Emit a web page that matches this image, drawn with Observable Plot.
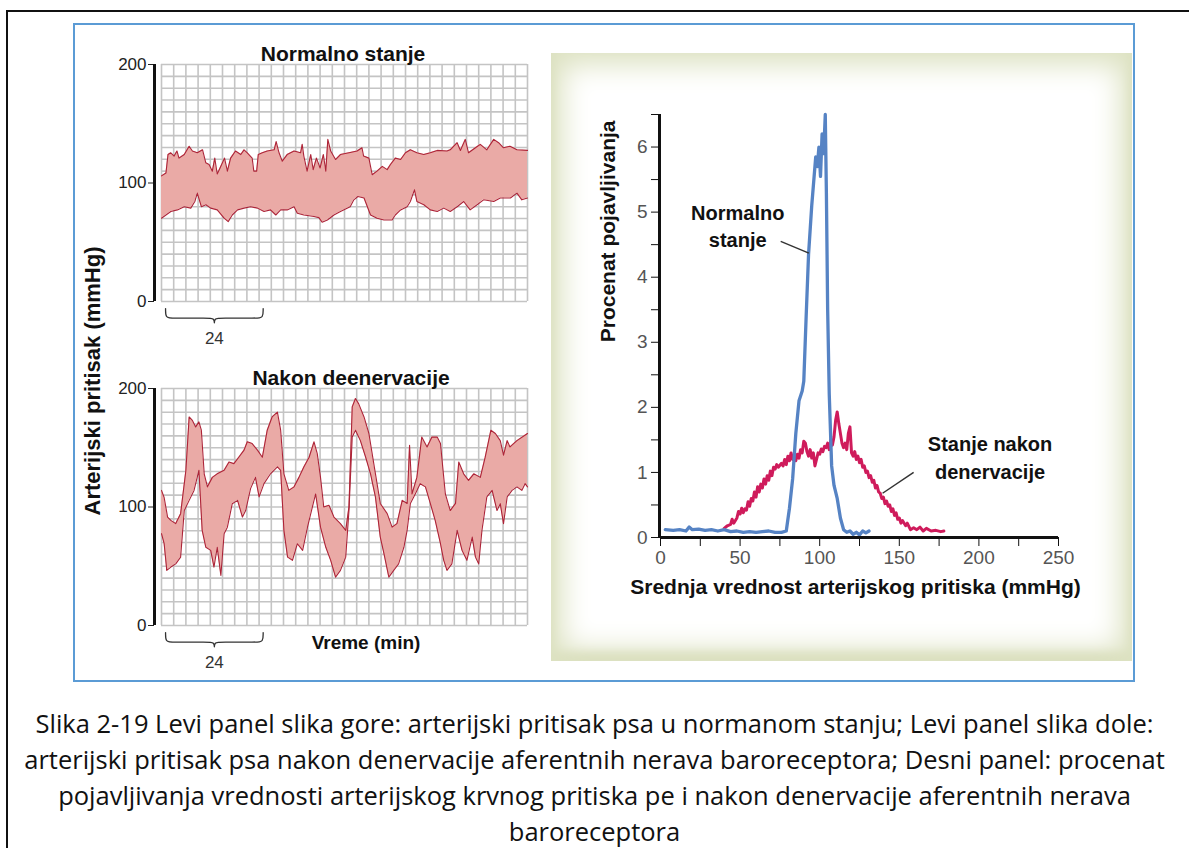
<!DOCTYPE html>
<html>
<head>
<meta charset="utf-8">
<script src="https://cdn.jsdelivr.net/npm/d3@7"></script>
<script src="https://cdn.jsdelivr.net/npm/@observablehq/plot@0.6"></script>
<style>
  html, body { margin: 0; padding: 0; background: #fff; }
  body { width: 1189px; height: 848px; position: relative; overflow: hidden; font-family: "Liberation Sans", Arial, sans-serif; }
  .frame { position: absolute; left: 6px; top: 10px; width: 1200px; height: 900px; border: 2px solid #111; box-sizing: border-box; }
  .figure { position: absolute; left: 73px; top: 23px; width: 1062px; height: 659px; border: 2px solid #5b9bd5; box-sizing: border-box; }
  .histbg { position: absolute; left: 551px; top: 53px; width: 581px; height: 608px; background: #fff;
            box-shadow: inset 0 0 28px 12px #dde2c2, inset 0 -6px 10px 2px #d6dbb8; }
  .panel { position: absolute; }
  .ylabel { position: absolute; left: 93px; top: 381px; transform: translate(-50%, -50%) rotate(-90deg);
            white-space: nowrap; font-weight: bold; font-size: 22px; color: #111; }
  .caption { position: absolute; left: 0; width: 1189px; top: 705px; text-align: center;
             font-family: "Open Sans", Lato, sans-serif; font-size: 25.5px; line-height: 36px; color: #111; }
</style>
</head>
<body>
<div class="frame"></div>
<div class="figure"></div>
<div class="histbg"></div>
<div id="top" class="panel" style="left:90px; top:30px"></div>
<div id="bottom" class="panel" style="left:90px; top:354px"></div>
<div id="hist" class="panel" style="left:560px; top:90px"></div>
<div class="ylabel">Arterijski pritisak (mmHg)</div>
<div class="caption">
Slika 2-19 Levi panel slika gore: arterijski pritisak psa u normanom stanju; Levi panel slika dole:<br>
arterijski pritisak psa nakon denervacije aferentnih nerava baroreceptora; Desni panel: procenat<br>
pojavljivanja vrednosti arterijskog krvnog pritiska pe i nakon denervacije aferentnih nerava<br>
baroreceptora
</div>
<script>
// ---- Pressure traces: [time (min), pressure (mmHg)] ----
const normalUpper = [[0,106],[1.1,108.5],[1.6,124],[2.3,125.5],[3.1,122.7],[3.8,127],[4.3,121],[5.6,124],[6.8,131],[7.6,127],[8.8,125.5],[10.1,128],[10.9,117],[11.7,115.6],[12.5,110],[13.1,121],[13.7,107.6],[14.4,112.7],[15.5,121],[16.2,110],[17,121],[18.2,127],[19.5,124],[20.3,128],[21.1,125.5],[22.3,121],[22.7,110],[23.4,110],[23.8,124],[24.8,125.5],[26,127],[27.7,128],[28.2,135],[28.9,125.5],[29.7,118.4],[30.9,124],[32.6,127],[34.2,125.5],[34.6,132.6],[35,122.7],[35.8,110],[36.7,124],[37.3,111.3],[38.1,121],[39,112.7],[39.8,124],[40.4,110],[40.9,136.8],[41.6,127],[42.8,119.8],[44,124],[46.1,125.5],[48.1,127],[49.3,129.7],[49.7,122.7],[51,121],[51.8,107],[53,110],[54.3,114],[55.5,111.3],[56.3,115.6],[57.5,121],[58.8,119.8],[60,125.5],[61.2,128],[62.8,125.5],[64.5,124],[66.1,125.5],[67.8,127.5],[70.2,127],[71,128],[72.7,134],[73.5,127.5],[74.7,136.8],[75.5,125.5],[77.2,129.7],[78.4,132.6],[80,128],[81.7,136.8],[82.9,134],[84.1,129.7],[85.7,131],[87.4,128],[90,127.5]];
const normalLower = [[0,70.3],[1.1,73],[2.3,76],[3.9,77.3],[5.6,80],[7.2,78.8],[8.2,84.4],[8.8,91.5],[9.8,80],[10.9,81.6],[12.1,78.8],[13.7,77.3],[15.4,70.3],[16.4,67.4],[17.4,73],[18.7,77.3],[20.3,78.8],[21.9,80],[23.6,78.8],[25.2,76],[26.8,77.3],[28.1,73],[29.3,77.3],[30.9,77.3],[32.6,80],[33.4,74.5],[35,73],[37.5,71.7],[38.7,70.8],[39.5,66.9],[40.8,68.8],[42.4,73],[44,76],[46.4,80],[47.3,85.8],[48.3,88.6],[49.8,87.3],[51.4,73],[53,70.3],[54.7,68.8],[56.7,68.8],[57.5,73],[58.8,77.3],[60.4,80],[61.2,84.4],[62.2,94.3],[62.8,84.4],[64.5,81.6],[66.1,77.3],[67.8,76],[69.4,78.8],[71,76],[72.7,80],[74.3,84.4],[75.9,77.3],[77.6,81.6],[79.2,85.8],[81.7,84.4],[83.3,87.3],[85.8,87.3],[87.4,91.5],[88.6,85.8],[90,87.3]];
const denervUpper = [[0,114],[0.65,108],[1.5,91.5],[2.3,88.7],[3.5,86],[4.7,94.4],[6,131],[6.8,176],[7.6,173],[8.4,167.6],[9.2,171.8],[9.8,164.8],[10.5,128],[11.3,117],[12.5,125],[13.7,128],[15.4,131],[16.6,138],[17.8,136.6],[19,142],[20.3,148],[21.1,155],[22.3,153.5],[23.6,148],[24.8,142],[26,164.8],[27.2,176],[28.5,180],[29.3,164.8],[30.1,128],[31.3,114],[32.6,117],[33.8,125],[35,133.8],[36.3,142],[37.5,155],[38.3,145],[39.1,125],[39.9,100],[41.2,101.4],[42.4,91.5],[44,86],[45.3,80.3],[46.1,100],[46.9,184.5],[47.7,191.5],[48.5,187],[49.8,176],[51,162],[52.2,136.6],[53.8,103],[55.5,94.4],[56.7,83],[57.9,86],[59.2,105.6],[60.4,103],[61,152],[61.6,111],[62.8,125],[64,159],[65.3,150.7],[66.5,159],[67.8,159],[68.6,153.5],[69.8,111],[71,97],[72.3,103],[73.1,138],[74.3,128],[75.5,122.5],[76.8,128],[78.4,125],[79.6,142],[81,164.8],[82.1,162],[83.3,156],[84.1,143.7],[85,156],[85.7,150.7],[87.4,156],[90,162]];
const denervLower = [[0,77.5],[0.65,69],[1.3,46.5],[2.3,49.3],[3.5,52],[4.7,57.7],[5.6,97],[6.8,105.6],[8,114],[9.2,131],[10,80.3],[10.9,66],[12.1,63.4],[12.9,49.3],[13.7,66],[14.6,42.3],[15.4,77.5],[16.2,83],[17.4,102.8],[18.7,105.6],[19.9,91.5],[20.7,97],[21.9,115.5],[23.1,125],[24,108.5],[25.2,119.7],[26.8,128],[28.5,133.8],[29.3,131],[30.1,80.3],[31,57.7],[32.2,55],[33.4,69],[34.7,63.4],[35.9,83],[37.1,100],[37.9,111],[39.1,83],[40.4,66],[41.6,55],[42.8,40.8],[44,46.5],[45.3,57.7],[46.1,97],[46.9,159],[47.7,164.8],[48.9,156],[50.2,142],[51.4,128],[52.6,108.5],[53.8,74.6],[54.7,60.6],[55.9,40.8],[57.1,46.5],[58.3,52],[59.6,66],[60.4,80.3],[61.2,103],[62.4,111],[63.6,119.7],[64.9,117],[66.1,103],[67.3,88.7],[68.6,69],[69.4,55],[70.2,46.5],[71.4,52],[72.7,80.3],[73.9,63.4],[75.1,55],[76.4,74.6],[77.2,57.7],[78,52],[78.8,80.3],[80,108.5],[81.3,114],[82.5,97],[83.3,102.8],[84.1,86],[85,108.5],[86.2,114],[87.4,117],[88.6,114],[89.4,119.7],[90,117]];

// ---- Occurrence histograms: [mean pressure (mmHg), % occurrence] ----
const normalDist = [[3,0.12],[8,0.11],[12,0.12],[16,0.1],[18,0.16],[20,0.12],[24,0.13],[28,0.11],[32,0.12],[36,0.1],[40,0.12],[44,0.09],[48,0.1],[52,0.08],[56,0.09],[60,0.08],[64,0.09],[68,0.1],[72,0.08],[76,0.08],[79,0.1],[81,0.45],[83,0.9],[85,1.6],[87,2.1],[89,2.25],[90,2.4],[91.5,3.4],[93,4.35],[95,5.1],[97,5.7],[97.5,5.85],[98.5,5.7],[99.5,6.0],[100.5,5.55],[101.5,6.2],[102.5,5.9],[103.5,6.5],[104.2,5.3],[105,3.5],[106,2.2],[107.5,1.1],[109,0.8],[111,0.6],[113,0.3],[115,0.12],[117,0.08],[119,0.1],[121,0.05],[123,0.08],[125,0.04],[127,0.1],[129,0.07],[131,0.1]];
const denervDist = [[40,0.14],[42,0.18],[44,0.2],[45,0.28],[46,0.22],[48,0.3],[49,0.4],[50,0.36],[51,0.45],[52,0.38],[53,0.44],[54,0.42],[55,0.55],[56,0.48],[57,0.6],[58,0.56],[59,0.7],[60,0.62],[61,0.78],[62,0.7],[63,0.82],[64,0.76],[65,0.9],[66,0.82],[67,0.95],[68,0.88],[69,1.02],[70,0.95],[71,1.08],[72,1.05],[73,1.12],[74,1.08],[76,1.14],[77,1.1],[78,1.2],[79,1.12],[80,1.25],[81,1.18],[82,1.3],[83,1.2],[84,1.26],[85,1.18],[86,1.28],[87,1.22],[88,1.35],[89,1.3],[90,1.48],[91,1.45],[92,1.32],[93,1.25],[94,1.35],[95,1.22],[96,1.3],[97,1.1],[98,1.2],[99,1.3],[100,1.28],[101,1.36],[102,1.32],[103,1.4],[104,1.38],[105,1.45],[106,1.35],[107,1.5],[108,1.42],[109,1.55],[110,1.8],[111,1.93],[112,1.75],[113,1.6],[114,1.45],[115,1.38],[116,1.45],[117,1.35],[118,1.6],[119,1.7],[120,1.3],[121,1.25],[122,1.32],[123,1.2],[124,1.25],[125,1.15],[126,1.2],[127,1.08],[128,1.1],[129,1.0],[130,1.02],[131,0.92],[132,0.95],[133,0.85],[134,0.88],[135,0.76],[136,0.8],[137,0.7],[138,0.68],[139,0.6],[140,0.62],[141,0.52],[142,0.56],[143,0.48],[144,0.5],[145,0.4],[146,0.44],[147,0.34],[148,0.38],[149,0.28],[150,0.3],[151,0.22],[152,0.26],[154,0.18],[155,0.22],[157,0.12],[159,0.15],[161,0.12],[163,0.16],[165,0.1],[167,0.14],[170,0.1],[173,0.11],[176,0.09],[178,0.1]];

// ---- Axis ticks and labels ----
const pressureTicks = [0, 100, 200];
const gridTimes = d3.range(0, 90.001, 3);       // chart-paper columns, 3 min each
const gridPressures = d3.range(0, 200.001, 10);  // chart-paper rows, 10 mmHg each
const braceStart = 1, braceMinutes = 24;
const histXTicks = d3.range(0, 250.001, 25);
const histYTicks = d3.range(0, 6.501, 0.5);
const panelTitles = ["Normalno stanje", "Nakon deenervacije"];
const timeLabel = "Vreme (min)";
const histXLabel = "Srednja vrednost arterijskog pritiska (mmHg)";
const histYLabel = "Procenat pojavljivanja";
const normalLabel = ["Normalno", "stanje"];
const denervLabel = ["Stanje nakon", "denervacije"];

const FONT = "'Liberation Sans', Arial, sans-serif";

// curly brace beneath the time axis, spanning braceMinutes
function bracePoints(a, w) {
  const m = a + w / 2, b = a + w;
  return [[a,-6],[a,-14],[a+1.5,-14],[m-1.5,-14],[m,-14],[m,-20],
          [m,-14],[m+1.5,-14],[b-1.5,-14],[b,-14],[b,-6]];
}

function tracePanel(upper, lower, title, titleDx, showTimeLabel) {
  const n = Math.max(upper.length, lower.length);
  const band = d3.range(n).map(i => {
    const u = upper[Math.min(i, upper.length - 1)];
    const l = lower[Math.min(i, lower.length - 1)];
    return {tu: u[0], vu: u[1], tl: l[0], vl: l[1]};
  });
  const marks = [
    Plot.ruleX(gridTimes, {y1: 0, y2: 200, stroke: "#c4c4c4", strokeWidth: 1.6}),
    Plot.ruleY(gridPressures, {x1: 0, x2: 90, stroke: "#c4c4c4", strokeWidth: 1.6}),
    Plot.area(band, {x1: "tl", y1: "vl", x2: "tu", y2: "vu", fill: "#eaaaa6"}),
    Plot.line(upper, {x: d => d[0], y: d => d[1], stroke: "#ad2438", strokeWidth: 1.1}),
    Plot.line(lower, {x: d => d[0], y: d => d[1], stroke: "#ad2438", strokeWidth: 1.1}),
    Plot.axisY({ticks: pressureTicks, tickSize: 6, tickPadding: 2, fontSize: 17, color: "#222", label: null}),
    Plot.ruleX([0], {y1: 0, y2: 200, dx: -7, stroke: "#111", strokeWidth: 3}),
    Plot.line(bracePoints(braceStart, braceMinutes), {x: d => d[0], y: d => d[1], curve: "basis", stroke: "#333", strokeWidth: 1.3}),
    Plot.text([String(braceMinutes)], {x: [braceStart + braceMinutes / 2], y: [-31], fontSize: 17, fill: "#333"}),
    Plot.text([title], {frameAnchor: "top", dx: titleDx, dy: -18, fontSize: 21, fontWeight: "bold", fill: "#111"})
  ];
  if (showTimeLabel) {
    marks.push(Plot.text([timeLabel], {frameAnchor: "bottom", dx: 25, dy: 23, fontSize: 19, fontWeight: "bold", fill: "#111"}));
  }
  return Plot.plot({
    width: 450, height: 320,
    marginLeft: 64, marginRight: 13, marginTop: 34, marginBottom: 49,
    style: {fontFamily: FONT, background: "transparent", overflow: "visible"},
    x: {domain: [0, 90], insetLeft: 7, axis: null},
    y: {domain: [0, 200]},
    marks
  });
}

document.getElementById("top").append(tracePanel(normalUpper, normalLower, panelTitles[0], 2, false));
document.getElementById("bottom").append(tracePanel(denervUpper, denervLower, panelTitles[1], 10, true));

const hist = Plot.plot({
  width: 560, height: 540,
  marginLeft: 100, marginRight: 62, marginTop: 24, marginBottom: 93,
  style: {fontFamily: FONT, background: "transparent", overflow: "visible"},
  x: {domain: [0, 250]},
  y: {domain: [0, 6.5]},
  marks: [
    Plot.line(denervDist, {x: d => d[0], y: d => d[1], stroke: "#cf1b5b", strokeWidth: 3}),
    Plot.line(normalDist, {x: d => d[0], y: d => d[1], stroke: "#5683c4", strokeWidth: 3.3}),
    Plot.axisX({ticks: histXTicks, tickSize: 9, tickPadding: 4, fontSize: 19, color: "#111", fill: "#555",
                tickFormat: d => d % 50 === 0 ? d : "", label: null}),
    Plot.axisY({ticks: histYTicks, tickSize: 9, tickPadding: 4, fontSize: 19, color: "#111", fill: "#555",
                tickFormat: d => Number.isInteger(d) ? d : "", label: null}),
    Plot.ruleX([0], {y1: 0, y2: 6.5, dx: -1, stroke: "#111", strokeWidth: 3}),
    Plot.ruleY([0], {x1: 0, x2: 250, stroke: "#111", strokeWidth: 3}),
    Plot.text([histXLabel], {frameAnchor: "bottom", dy: 56, dx: -4, fontSize: 21, fontWeight: "bold", fill: "#111"}),
    Plot.text([histYLabel], {frameAnchor: "left", y: [3.0], dx: -52, rotate: -90, fontSize: 21, fontWeight: "bold", fill: "#111"}),
    Plot.text(normalLabel, {x: [48.5, 48.5], y: [4.98, 4.57], fontSize: 20, fontWeight: "bold", fill: "#111"}),
    Plot.link([0], {x1: [75.5], y1: [4.55], x2: [93.2], y2: [4.37], stroke: "#333", strokeWidth: 1.5}),
    Plot.text(denervLabel, {x: [207, 207], y: [1.42, 1.0], fontSize: 20, fontWeight: "bold", fill: "#111"}),
    Plot.link([0], {x1: [159], y1: [1.0], x2: [139.5], y2: [0.68], stroke: "#333", strokeWidth: 1.5})
  ]
});
document.getElementById("hist").append(hist);
</script>
</body>
</html>
